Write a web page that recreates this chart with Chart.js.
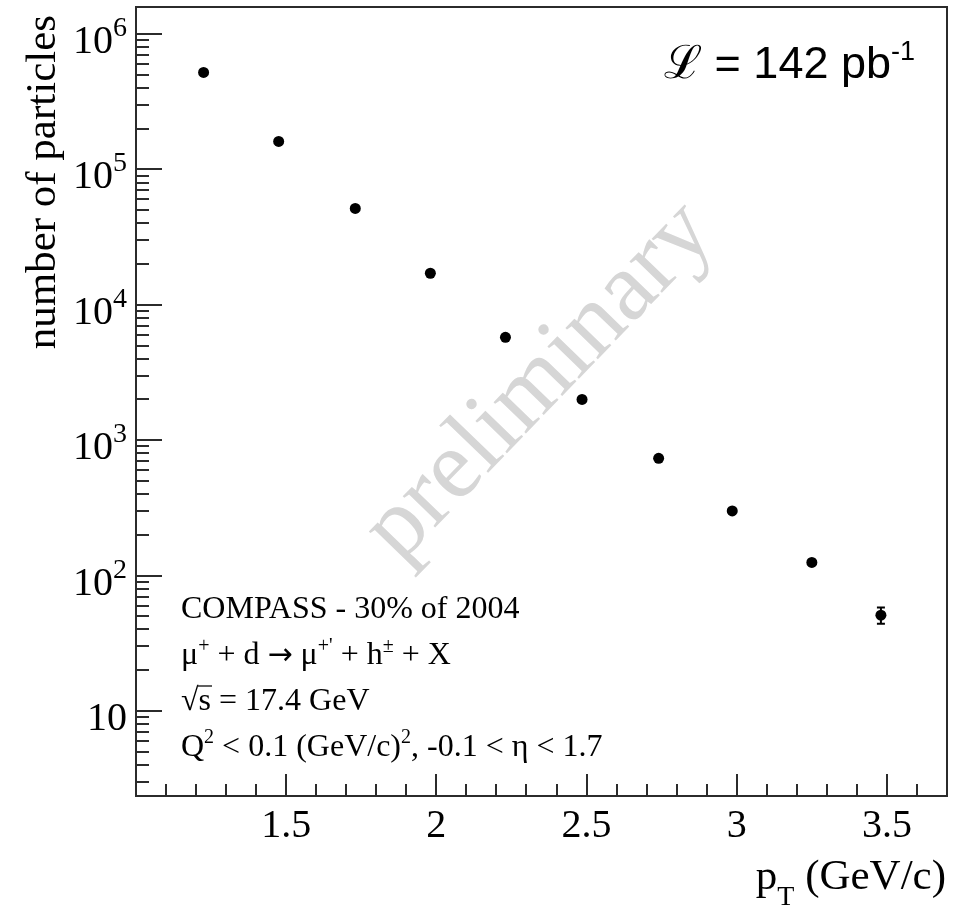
<!DOCTYPE html>
<html>
<head>
<meta charset="utf-8">
<script src="https://cdn.jsdelivr.net/npm/chart.js@4.4.1/dist/chart.umd.min.js"></script>
<style>
  html, body { margin: 0; padding: 0; background: #fff; }
  canvas { display: block; }
</style>
</head>
<body>
<canvas id="chart" width="954" height="912"></canvas>
<script>
// pT bin centres (GeV/c) and number of particles
const pT = [1.225, 1.475, 1.73, 1.98, 2.23, 2.485, 2.74, 2.985, 3.25, 3.48];
const counts = [5.2e5, 1.61e5, 5.15e4, 1.71e4, 5.75e3, 2.0e3, 735, 300, 125, 51];
// only the last error bar sticks out of its marker
const countErr = [0, 0, 0, 0, 0, 0, 0, 0, 0, 7];

const xRange = [1.0, 3.7];
const yRange = [2.355, 1.583e6];
const xLabels = [1.5, 2, 2.5, 3, 3.5];
const yExponents = [1, 2, 3, 4, 5, 6];

const SERIF = "'Liberation Serif', 'Times New Roman', 'DejaVu Serif', serif";
const SANS = "'Liberation Sans', Arial, sans-serif";
const INK = "#2b2b2b";

const infoLines = [
  [["COMPASS - 30% of 2004", 32, 0]],
  [["\u03bc", 32, 0], ["+", 20, -12], [" + d ", 32, 0], ["\u2192", 30, 0, "'DejaVu Sans', sans-serif"], [" \u03bc", 32, 0], ["+'", 20, -12], [" + h", 32, 0], ["\u00b1", 20, -12], [" + X", 32, 0]],
  [["\u221a", 32, 0], ["s = 17.4 GeV", 32, 0]],
  [["Q", 32, 0], ["2", 20, -13], [" < 0.1 (GeV/c)", 32, 0], ["2", 20, -13], [", -0.1 < \u03b7 < 1.7", 32, 0]]
];

// draws a list of [text, size, dy, family] pieces one after the other
function richText(ctx, x, y, parts, align) {
  let w = 0;
  parts.forEach(p => {
    ctx.font = p[1] + "px " + (p[3] || SERIF);
    w += ctx.measureText(p[0]).width;
  });
  let cx = align === "right" ? x - w : x;
  const starts = [];
  parts.forEach(p => {
    ctx.font = p[1] + "px " + (p[3] || SERIF);
    starts.push(cx);
    ctx.fillText(p[0], cx, y + p[2]);
    cx += ctx.measureText(p[0]).width;
  });
  return starts;
}

const rootStyle = {
  id: "rootStyle",
  beforeDatasetsDraw(chart) {
    const ctx = chart.ctx;
    const xs = chart.scales.x, ys = chart.scales.y;

    // watermark
    ctx.save();
    ctx.translate(540, 382);
    ctx.rotate(-46 * Math.PI / 180);
    ctx.font = "98px " + SERIF;
    ctx.fillStyle = "#d6d6d6";
    ctx.textAlign = "center";
    ctx.textBaseline = "middle";
    ctx.fillText("preliminary", 0, 0);
    ctx.restore();

    // error bars
    ctx.save();
    ctx.strokeStyle = "#000";
    ctx.lineWidth = 2;
    pT.forEach((x, i) => {
      if (!countErr[i]) return;
      const px = xs.getPixelForValue(x);
      const top = ys.getPixelForValue(counts[i] + countErr[i]);
      const bot = ys.getPixelForValue(counts[i] - countErr[i]);
      ctx.beginPath();
      ctx.moveTo(px, top); ctx.lineTo(px, bot);
      ctx.moveTo(px - 4, top); ctx.lineTo(px + 4, top);
      ctx.moveTo(px - 4, bot); ctx.lineTo(px + 4, bot);
      ctx.stroke();
    });
    ctx.restore();
  },
  afterDraw(chart) {
    const ctx = chart.ctx;
    const a = chart.chartArea;
    const xs = chart.scales.x, ys = chart.scales.y;
    ctx.save();
    ctx.strokeStyle = INK;
    ctx.fillStyle = "#000";
    ctx.lineWidth = 2;

    // frame
    ctx.strokeRect(a.left, a.top, a.right - a.left, a.bottom - a.top);

    // x ticks, drawn inward
    ctx.beginPath();
    for (let i = 11; i < 37; i++) {
      const px = Math.round(xs.getPixelForValue(i / 10));
      const len = i % 5 === 0 ? 22 : 12;
      ctx.moveTo(px, a.bottom);
      ctx.lineTo(px, a.bottom - len);
    }
    // y ticks
    for (let e = 0; e <= 6; e++) {
      for (let m = 1; m <= 9; m++) {
        const v = m * Math.pow(10, e);
        if (v <= yRange[0] || v >= yRange[1]) continue;
        const py = Math.round(ys.getPixelForValue(v));
        ctx.moveTo(a.left, py);
        ctx.lineTo(a.left + (m === 1 ? 26 : 13), py);
      }
    }
    ctx.stroke();

    // x tick labels
    ctx.font = "40px " + SERIF;
    ctx.textAlign = "center";
    ctx.textBaseline = "alphabetic";
    xLabels.forEach(v => {
      ctx.fillText(String(v), xs.getPixelForValue(v), 837);
    });

    // y tick labels: 10 with exponent
    ctx.textAlign = "left";
    yExponents.forEach(e => {
      const py = ys.getPixelForValue(Math.pow(10, e));
      if (e === 1) {
        richText(ctx, 127, py + 19, [["10", 40, 0]], "right");
      } else {
        richText(ctx, 127, py + 19, [["10", 40, 0], [String(e), 28, -17]], "right");
      }
    });

    // axis titles
    ctx.save();
    ctx.translate(55, 15);
    ctx.rotate(-Math.PI / 2);
    richText(ctx, 0, 0, [["number of particles", 43, 0]], "right");
    ctx.restore();

    richText(ctx, 946, 889, [["p", 43, 0], ["T", 28, 16], [" (GeV/c)", 43, 0]], "right");

    // luminosity
    richText(ctx, 915, 78, [
      ["\u2112", 46, 0, "'DejaVu Serif', serif"],
      [" = 142 pb", 45, 0, SANS],
      ["-1", 27, -18, SANS]
    ], "right");

    // run info
    infoLines.forEach((parts, i) => {
      const y = 618 + i * 46;
      const starts = richText(ctx, 181, y, parts, "left");
      if (i === 2) {
        // bar over the s of sqrt(s)
        ctx.font = "32px " + SERIF;
        const sw = ctx.measureText("s").width;
        ctx.beginPath();
        ctx.lineWidth = 1.5;
        ctx.moveTo(starts[1] - 1, y - 24);
        ctx.lineTo(starts[1] + sw + 1, y - 24);
        ctx.stroke();
      }
    });
    ctx.restore();
  }
};

new Chart(document.getElementById("chart"), {
  type: "scatter",
  data: {
    datasets: [{
      data: pT.map((x, i) => ({ x: x, y: counts[i] })),
      pointRadius: 5.5,
      pointHoverRadius: 5.5,
      backgroundColor: "#000",
      borderColor: "#000",
      borderWidth: 0,
      showLine: false
    }]
  },
  options: {
    responsive: false,
    animation: false,
    devicePixelRatio: 1,
    layout: { padding: { left: 136, top: 7, right: 7, bottom: 116 } },
    plugins: { legend: { display: false }, tooltip: { enabled: false } },
    scales: {
      x: { type: "linear", min: xRange[0], max: xRange[1], display: false },
      y: { type: "logarithmic", min: yRange[0], max: yRange[1], display: false }
    }
  },
  plugins: [rootStyle]
});
</script>
</body>
</html>
